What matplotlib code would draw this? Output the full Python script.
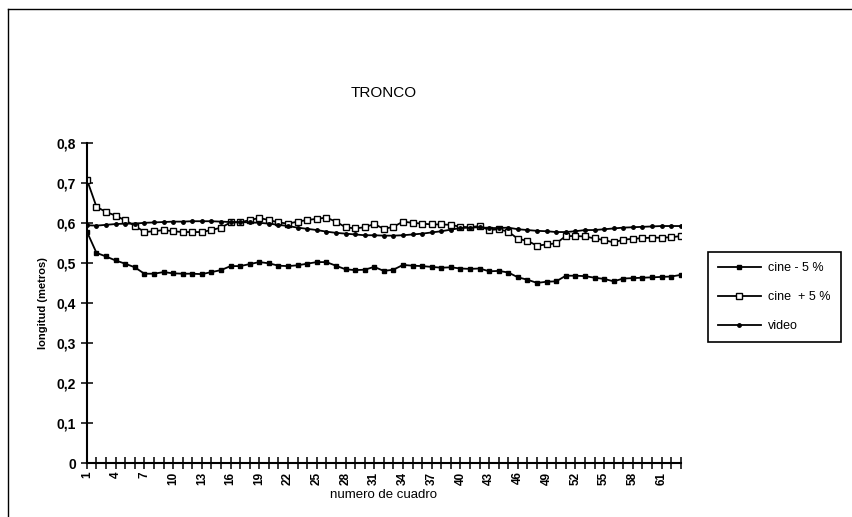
import matplotlib
matplotlib.use('Agg')
import matplotlib.pyplot as plt
from matplotlib.lines import Line2D

## TRONCO: longitud por cuadro (cine -5%, cine +5%, video)

# numero de cuadro 1..63
cuadros = list(range(1, 64))

cine_menos5 = [
	0.578, 0.525, 0.516, 0.506, 0.498, 0.489, 0.473, 0.473, 0.477, 0.474,
	0.473, 0.473, 0.472, 0.477, 0.482, 0.492, 0.492, 0.497, 0.502, 0.499,
	0.493, 0.492, 0.494, 0.498, 0.502, 0.502, 0.493, 0.484, 0.482, 0.483,
	0.490, 0.480, 0.483, 0.495, 0.493, 0.492, 0.490, 0.488, 0.489, 0.486,
	0.485, 0.486, 0.479, 0.480, 0.476, 0.464, 0.458, 0.450, 0.453, 0.454,
	0.468, 0.468, 0.467, 0.463, 0.460, 0.454, 0.461, 0.462, 0.463, 0.464,
	0.465, 0.466, 0.470]

cine_mas5 = [
	0.708, 0.640, 0.627, 0.618, 0.606, 0.593, 0.577, 0.579, 0.582, 0.579,
	0.577, 0.577, 0.577, 0.582, 0.588, 0.601, 0.601, 0.607, 0.612, 0.607,
	0.601, 0.598, 0.603, 0.607, 0.610, 0.613, 0.603, 0.589, 0.586, 0.589,
	0.597, 0.585, 0.590, 0.603, 0.600, 0.598, 0.596, 0.596, 0.595, 0.590,
	0.589, 0.592, 0.582, 0.584, 0.578, 0.560, 0.555, 0.543, 0.546, 0.549,
	0.567, 0.567, 0.566, 0.561, 0.557, 0.551, 0.558, 0.560, 0.562, 0.563,
	0.563, 0.564, 0.567]

video = [
	0.594, 0.593, 0.595, 0.597, 0.598, 0.598, 0.600, 0.601, 0.602, 0.603,
	0.603, 0.604, 0.604, 0.604, 0.603, 0.602, 0.602, 0.601, 0.600, 0.598,
	0.595, 0.592, 0.588, 0.585, 0.582, 0.578, 0.575, 0.573, 0.571, 0.569,
	0.569, 0.568, 0.568, 0.569, 0.571, 0.573, 0.576, 0.579, 0.583, 0.587,
	0.588, 0.589, 0.587, 0.587, 0.588, 0.584, 0.582, 0.580, 0.579, 0.577,
	0.577, 0.579, 0.582, 0.582, 0.584, 0.586, 0.588, 0.589, 0.590, 0.591,
	0.592, 0.592, 0.592]

series_names = ['cine - 5 %', 'cine  + 5 %', 'video']

y_ticks = [0, 0.1, 0.2, 0.3, 0.4, 0.5, 0.6, 0.7, 0.8]
y_ticklabels = ['0', '0,1', '0,2', '0,3', '0,4', '0,5', '0,6', '0,7', '0,8']
# solo se rotula cada 3 cuadros
x_ticklabels = [str(c) if (c - 1) % 3 == 0 else '' for c in cuadros]

plt.rcParams['font.family'] = ['Liberation Sans', 'DejaVu Sans']

fig = plt.figure(figsize=(8.52, 5.17), dpi=100)
ax = fig.add_axes([0.102, 0.104, 0.697, 0.62])

ax.plot(cuadros, cine_menos5, color='black', lw=1.3, marker='s', ms=3.5,
	mfc='black', mec='black', label=series_names[0])
ax.plot(cuadros, cine_mas5, color='black', lw=1.3, marker='s', ms=5,
	mfc='white', mec='black', mew=1.0, label=series_names[1])
ax.plot(cuadros, video, color='black', lw=1.3, marker='o', ms=2.5,
	mfc='black', mec='black', label=series_names[2])

ax.set_xlim(1, 63)
ax.set_ylim(0, 0.8)

ax.set_yticks(y_ticks)
ax.set_yticklabels(y_ticklabels, fontsize=10, fontweight='bold')
ax.set_xticks(cuadros)
ax.set_xticklabels(x_ticklabels, rotation=90, fontsize=8.5, fontweight='bold')

ax.tick_params(axis='both', direction='inout', length=8, width=1.1, color='black')
ax.tick_params(axis='y', pad=4)
ax.tick_params(axis='x', pad=2)

for s in ['top', 'right']:
	ax.spines[s].set_visible(False)
for s in ['left', 'bottom']:
	ax.spines[s].set_linewidth(1.5)

ax.set_title('TRONCO', fontsize=11, pad=33)
ax.set_xlabel('numero de cuadro', fontsize=9.5, labelpad=3)
ax.set_ylabel('longitud (metros)', fontsize=8, fontweight='bold', labelpad=6)

leg = ax.legend(loc='center left', bbox_to_anchor=(0.831, 0.425),
	bbox_transform=fig.transFigure, fancybox=False, edgecolor='black',
	framealpha=1, fontsize=9, handlelength=3.4, labelspacing=1.35,
	borderpad=0.8, handletextpad=0.6, borderaxespad=0)
leg.get_frame().set_linewidth(1.2)

# marco de la hoja (izquierda y arriba)
fig.add_artist(Line2D([0.0095, 0.0095], [0.0, 0.983], transform=fig.transFigure,
	color='black', lw=1.0))
fig.add_artist(Line2D([0.0095, 1.0], [0.983, 0.983], transform=fig.transFigure,
	color='black', lw=1.0))

fig.savefig('out.png', dpi=100)
